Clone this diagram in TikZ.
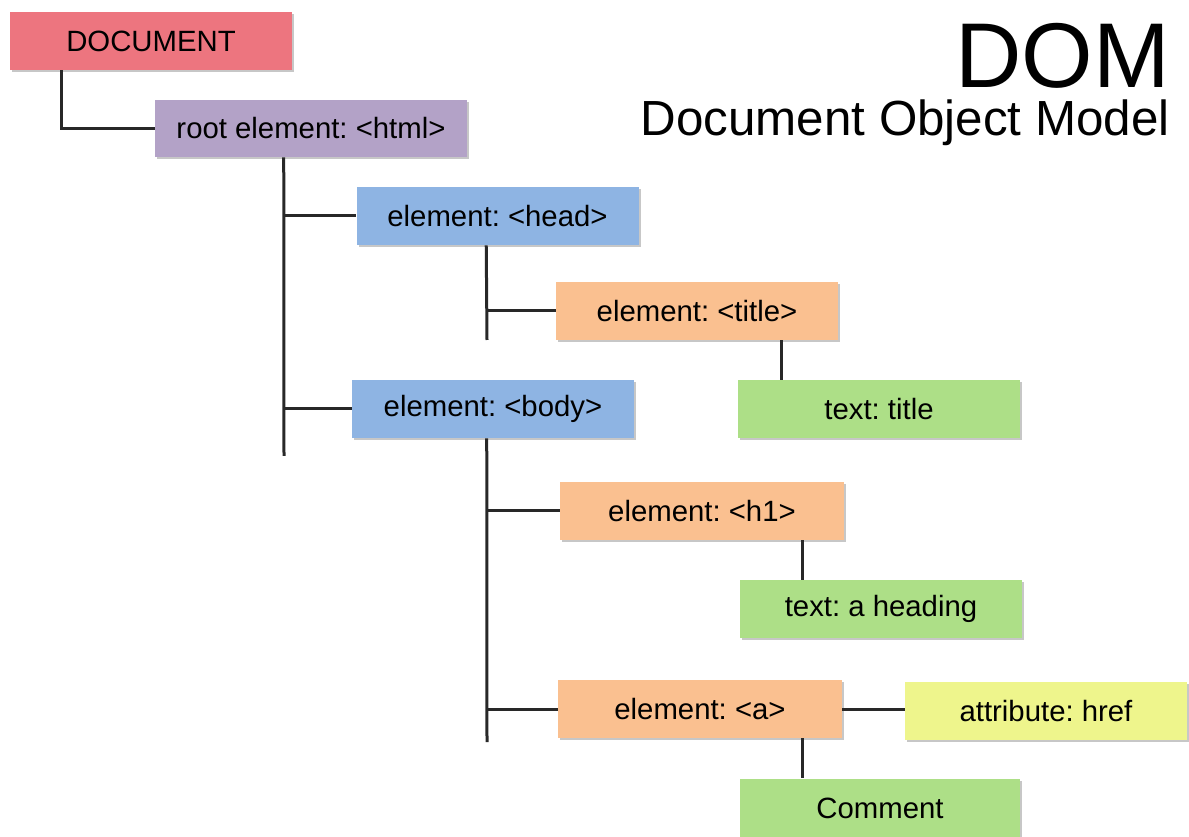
\documentclass[tikz,border=0pt]{standalone}
\usepackage{fontspec}
\setmainfont{Liberation Sans}
\usetikzlibrary{shadows}
\definecolor{cdoc}{RGB}{237,117,127}
\definecolor{croot}{RGB}{179,162,199}
\definecolor{cblue}{RGB}{142,180,227}
\definecolor{corange}{RGB}{250,192,144}
\definecolor{cgreen}{RGB}{173,223,135}
\definecolor{cyellow}{RGB}{238,245,140}
\definecolor{cline}{RGB}{40,40,40}
\tikzset{
  box/.style={rectangle, inner sep=0pt, minimum width=211.5pt, minimum height=43.5pt,
    font=\fontsize{22}{26}\selectfont\frenchspacing, text=black,
    drop shadow={shadow xshift=1.5pt, shadow yshift=-1.5pt, fill=black, opacity=0.22}},
  conn/.style={draw=cline, line width=2.25pt},
}
\begin{document}
\frenchspacing
\begin{tikzpicture}[x=0.75pt,y=-0.75pt]
\fill[white] (0,0) rectangle (1189,837);
\useasboundingbox (0,0) rectangle (1189,837);

% title
\node[anchor=base east, inner sep=0pt, text depth=0pt, font=\fontsize{69}{69}\selectfont] (dom) at (1170,88) {DOM};
\node[anchor=base east, inner sep=0pt, text height=26pt, font=\fontsize{37}{40}\selectfont] (dommodel) at (1170,136) {Document Object Model};

% boxes
\node[box, fill=cdoc] (doc) at (151,41) {DOCUMENT};
\node[box, fill=croot, minimum width=234pt, minimum height=42.75pt] (root) at (311,128.5) {root element: <html>};
\node[box, fill=cblue] (head) at (497.5,216) {element: <head>};
\node[box, fill=corange] (title) at (697,311) {element: <title>};
\node[box, fill=cgreen] (ttitle) at (879,409) {text: title};
\node[box, fill=cblue] (body) at (493,409) {element: <body>};
\node[box, fill=corange, minimum width=213pt] (h1) at (702,511) {element: <h1>};
\node[box, fill=cgreen] (theading) at (881,609) {text: a heading};
\node[box, fill=corange, minimum width=213pt] (a) at (700,709) {element: <a>};
\node[box, fill=cyellow] (href) at (1046,711) {attribute: href};
\node[box, fill=cgreen, minimum width=210pt, minimum height=44.25pt] (comment) at (880,808) {Comment};

% connector anchor points
\coordinate (dd) at ([xshift=39pt]doc.south west);
\coordinate (rr) at ([xshift=96.75pt]root.south west);
\coordinate (rootend) at (284,456);
\coordinate (hh) at ([xshift=97.5pt]head.south west);
\coordinate (headend) at (487,340);
\coordinate (tt) at ([xshift=169.5pt]title.south west);
\coordinate (bb) at ([xshift=101.25pt]body.south west);
\coordinate (bodyend) at (487,742);
\coordinate (hh1) at ([xshift=182.25pt]h1.south west);
\coordinate (aa) at ([xshift=183.75pt]a.south west);

% connectors
\draw[conn] (dd) |- (root.west);
\draw[conn] (rr) -- (rootend);
\draw[conn] (head.west) -- (head.west -| rootend);
\draw[conn] (body.west) -- (body.west -| rootend);
\draw[conn] (hh) -- (headend);
\draw[conn] (title.west) -- (title.west -| headend);
\draw[conn] (tt) -- (tt |- ttitle.north);
\draw[conn] (bb) -- (bodyend);
\draw[conn] (h1.west) -- (h1.west -| bodyend);
\draw[conn] (a.west) -- (a.west -| bodyend);
\draw[conn] (hh1) -- (hh1 |- theading.north);
\draw[conn] (aa) -- (aa |- comment.north);
\draw[conn] (a.east) -- (a.east -| href.west);
\end{tikzpicture}
\end{document}
